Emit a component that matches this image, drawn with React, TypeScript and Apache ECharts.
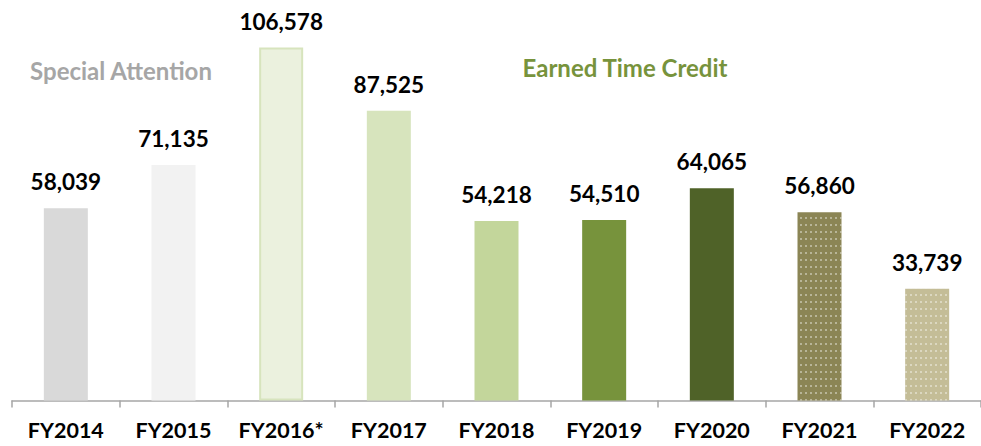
import React, { useEffect, useRef } from "react";
import * as echarts from "echarts";

const categories = ["FY2014", "FY2015", "FY2016*", "FY2017", "FY2018", "FY2019", "FY2020", "FY2021", "FY2022"];
const values = [58039, 71135, 106578, 87525, 54218, 54510, 64065, 56860, 33739];
const barColors = ["#d9d9d9", "#f2f2f2", "#ebf1de", "#d7e4bd", "#c3d69b", "#77933c", "#4f6228", "#8b8555", "#c4bd97"];
const borderColors = ["none", "none", "#d7e4bd", "none", "none", "none", "none", "none", "none"];
const dotted = [false, false, false, false, false, false, false, true, true];

const FONT = "Lato, 'Noto Sans', sans-serif";

export default function App() {
  const ref = useRef<HTMLDivElement>(null);
  useEffect(() => {
    if (!ref.current) return;
    const chart = echarts.init(ref.current, null, { renderer: "svg" });
    const data = values.map((v, i) => ({
      value: v,
      itemStyle: {
        color: barColors[i],
        borderColor: borderColors[i] === "none" ? undefined : borderColors[i],
        borderWidth: borderColors[i] === "none" ? 0 : 2,
        decal: dotted[i]
          ? {
              symbol: "rect",
              symbolSize: 0.75,
              color: "rgba(255,255,255,0.7)",
              dashArrayX: [2, 2.2],
              dashArrayY: [2, 5],
              rotation: 0,
            }
          : undefined,
      },
    }));
    chart.setOption({
      animation: false,
      grid: { left: 12, right: -5.5, top: 3.1, bottom: 45.5, containLabel: false },
      xAxis: {
        type: "category",
        data: categories,
        axisLine: { show: true, lineStyle: { color: "#a6a6a6", width: 1.5 } },
        axisTick: { show: true, length: 7, lineStyle: { color: "#a6a6a6", width: 1.5 } },
        axisLabel: {
          margin: 18,
          fontFamily: FONT,
          fontWeight: "bold",
          fontSize: 21.5,
          color: "#000000",
          interval: 0,
        },
      },
      yAxis: { type: "value", min: 0, max: 120000, show: false, splitLine: { show: false } },
      series: [
        {
          type: "bar",
          data,
          barWidth: 44,
          label: {
            show: true,
            position: "top",
            distance: 15,
            fontFamily: FONT,
            fontWeight: "bold",
            fontSize: 22.5,
            color: "#000000",
            formatter: (p: any) => p.value.toLocaleString("en-US"),
          },
        },
      ],
      graphic: [
        {
          type: "text",
          x: 121,
          y: 70,
          style: {
            text: "Special Attention",
            fontFamily: FONT,
            fontWeight: "bold",
            fontSize: 24,
            fill: "#a6a6a6",
            textAlign: "center",
            textVerticalAlign: "middle",
          },
        },
        {
          type: "text",
          x: 625,
          y: 67,
          style: {
            text: "Earned Time Credit",
            fontFamily: FONT,
            fontWeight: "bold",
            fontSize: 24,
            fill: "#77933c",
            textAlign: "center",
            textVerticalAlign: "middle",
          },
        },
      ],
    });
    return () => chart.dispose();
  }, []);
  return (
    <div
      ref={ref}
      style={{ position: "fixed", left: 0, top: 0, width: 981, height: 446, background: "#ffffff" }}
    />
  );
}
